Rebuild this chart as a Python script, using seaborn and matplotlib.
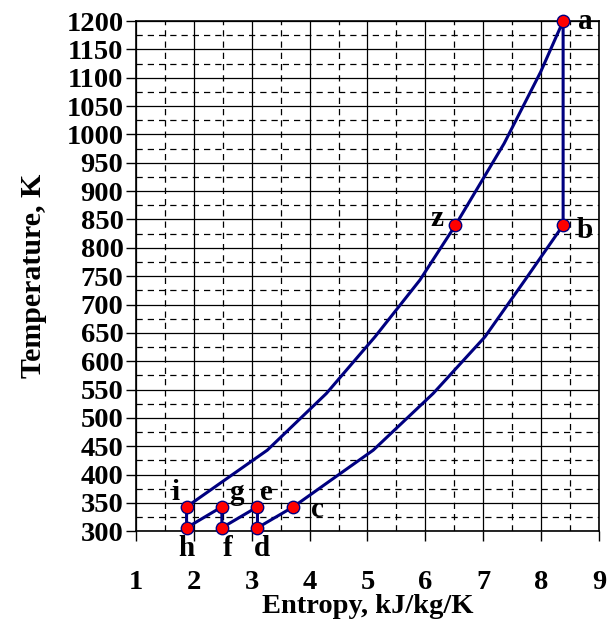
import numpy as np
import pandas as pd
import matplotlib
matplotlib.use('Agg')
import matplotlib.pyplot as plt
from matplotlib.ticker import MultipleLocator
import seaborn as sns

# Cycle states (entropy kJ/kg/K, temperature K)
upper_s = [1.875, 3.27, 4.29, 5.13, 5.905, 6.52, 7.36, 7.99, 8.38]
upper_T = [343, 443, 543, 643, 743, 840, 984, 1110, 1200]
lower_s = [8.38, 7.72, 7.03, 6.135, 5.10, 3.72]
lower_T = [840, 743, 643, 543, 443, 343]
steps_s = [3.10, 3.10, 2.485, 2.485, 1.875, 1.875]
steps_T = [306, 343, 306, 343, 306, 343]

state_names = ['a', 'b', 'z', 'c', 'd', 'e', 'f', 'g', 'h', 'i']
state_s = [8.38, 8.38, 6.52, 3.72, 3.10, 3.10, 2.485, 2.485, 1.875, 1.875]
state_T = [1200, 840, 840, 343, 306, 343, 306, 343, 306, 343]
# label offsets in pixels (dx, dy)
label_off = {'a': (22, 0), 'b': (22, -5), 'z': (-19, 7), 'c': (24, -3),
             'd': (4, -21), 'e': (9, 14), 'f': (6, -21), 'g': (15, 14),
             'h': (0, -21), 'i': (-11, 14)}

path = pd.DataFrame({
    's': upper_s + lower_s + steps_s,
    'T': upper_T + lower_T + steps_T,
})
states = pd.DataFrame({'name': state_names, 's': state_s, 'T': state_T})

sns.set_style('white')
plt.rcParams['font.family'] = ['Liberation Serif', 'DejaVu Serif']
plt.rcParams['font.weight'] = 'bold'
for key in ['text.color', 'axes.labelcolor', 'xtick.color', 'ytick.color']:
    plt.rcParams[key] = 'black'

fig = plt.figure(figsize=(6.15, 6.22), dpi=100)
ax = fig.add_axes([0.221, 0.146, 0.753, 0.820])

sns.lineplot(data=path, x='s', y='T', sort=False, estimator=None,
             color='#000080', lw=2.2, ax=ax, zorder=3)
sns.scatterplot(data=states, x='s', y='T', color='red', edgecolor='#000080',
                linewidth=1, s=80, ax=ax, zorder=4, clip_on=False)

for _, r in states.iterrows():
    dx, dy = label_off[r['name']]
    ax.annotate(r['name'], (r['s'], r['T']), xytext=(dx * 0.72, dy * 0.72),
                textcoords='offset points', ha='center', va='center',
                fontsize=21, fontweight='bold', annotation_clip=False)

ax.set_xlim(1, 9)
ax.set_ylim(300, 1200)
ax.xaxis.set_major_locator(MultipleLocator(1))
ax.xaxis.set_minor_locator(MultipleLocator(0.5))
ax.yaxis.set_major_locator(MultipleLocator(50))
ax.yaxis.set_minor_locator(MultipleLocator(25))
ax.grid(which='major', color='black', lw=0.9, ls='-')
ax.grid(which='minor', color='black', lw=0.9, ls=(0, (5, 4)))
ax.set_axisbelow(True)

ax.tick_params(which='major', direction='out', length=7, width=1, color='black',
               labelsize=20.5, pad=2, bottom=True, left=True)
ax.tick_params(which='minor', length=0)
for lab in ax.get_xticklabels() + ax.get_yticklabels():
    lab.set_fontweight('bold')
ax.tick_params(axis='x', pad=21)

for sp in ax.spines.values():
    sp.set_color('black')
    sp.set_linewidth(1.2)

ax.set_xlabel('Entropy, kJ/kg/K', fontsize=20.5, fontweight='bold', labelpad=-1)
ax.set_ylabel('Temperature, K', fontsize=21.5, fontweight='bold', labelpad=14)

fig.savefig('out.png', dpi=100)
